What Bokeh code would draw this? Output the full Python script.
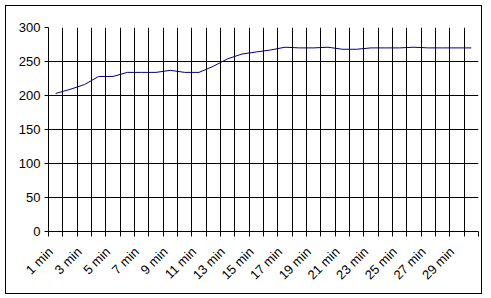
import math
from bokeh.plotting import figure
from bokeh.models import FixedTicker
from bokeh.embed import file_html
from bokeh.resources import INLINE

categories = ["1 min", "2 min", "3 min", "4 min", "5 min", "6 min", "7 min", "8 min",
              "9 min", "10 min", "11 min", "12 min", "13 min", "14 min", "15 min",
              "16 min", "17 min", "18 min", "19 min", "20 min", "21 min", "22 min",
              "23 min", "24 min", "25 min", "26 min", "27 min", "28 min", "29 min",
              "30 min"]
values = [203, 209, 216, 228, 228, 234, 234, 234, 237, 234, 234, 243, 254, 261, 264,
          267, 271, 270, 270, 271, 268, 268, 270, 270, 270, 271, 270, 270, 270, 270]
y_ticks = [0, 50, 100, 150, 200, 250, 300]

n = len(categories)
xs = list(range(1, n + 1))
LABEL_SHIFT = -0.35  # rotated label ends sit slightly left of the category centre
label_pos = [x + LABEL_SHIFT for x in xs[::2]]
boundaries = [i + 0.5 for i in range(0, n + 1)]
inner_bounds = boundaries[1:-1]

FONT = "Liberation Sans"

p = figure(width=475, height=287, output_backend="svg", toolbar_location=None,
           x_range=(0.5, n + 0.5), y_range=(0, 300),
           min_border_left=42, min_border_right=5, min_border_top=21, min_border_bottom=64)
p.outline_line_color = None
p.background_fill_color = "white"
p.border_fill_color = "white"
p.styles = {"border": "1px solid black", "margin-left": "5px", "margin-top": "5px",
            "box-sizing": "content-box"}

p.line(xs, values, line_color="#000080", line_width=1)

# x axis
xa = p.xaxis[0]
xa.ticker = FixedTicker(ticks=label_pos, minor_ticks=boundaries)
xa.major_label_overrides = {x: categories[i * 2] for i, x in enumerate(label_pos)}
xa.major_label_orientation = math.pi / 4
xa.major_tick_out = 0
xa.major_tick_in = 0
xa.minor_tick_out = 5
xa.minor_tick_in = 0
xa.minor_tick_line_color = "black"
xa.axis_line_color = "black"
xa.major_label_text_font = FONT
xa.major_label_text_font_size = "13px"
xa.major_label_text_color = "black"
xa.major_label_standoff = 13

# y axis
ya = p.yaxis[0]
ya.ticker = FixedTicker(ticks=y_ticks)
ya.major_tick_out = 4
ya.major_tick_in = 0
ya.minor_tick_out = 0
ya.minor_tick_in = 0
ya.axis_line_color = "black"
ya.major_tick_line_color = "black"
ya.major_label_text_font = FONT
ya.major_label_text_font_size = "13px"
ya.major_label_text_color = "black"
ya.major_label_standoff = 4

# grids
p.xgrid[0].ticker = FixedTicker(ticks=inner_bounds)
p.xgrid[0].grid_line_color = "black"
p.ygrid[0].ticker = FixedTicker(ticks=y_ticks[1:-1])
p.ygrid[0].grid_line_color = "black"

open("out.html", "w").write(file_html(p, INLINE))
